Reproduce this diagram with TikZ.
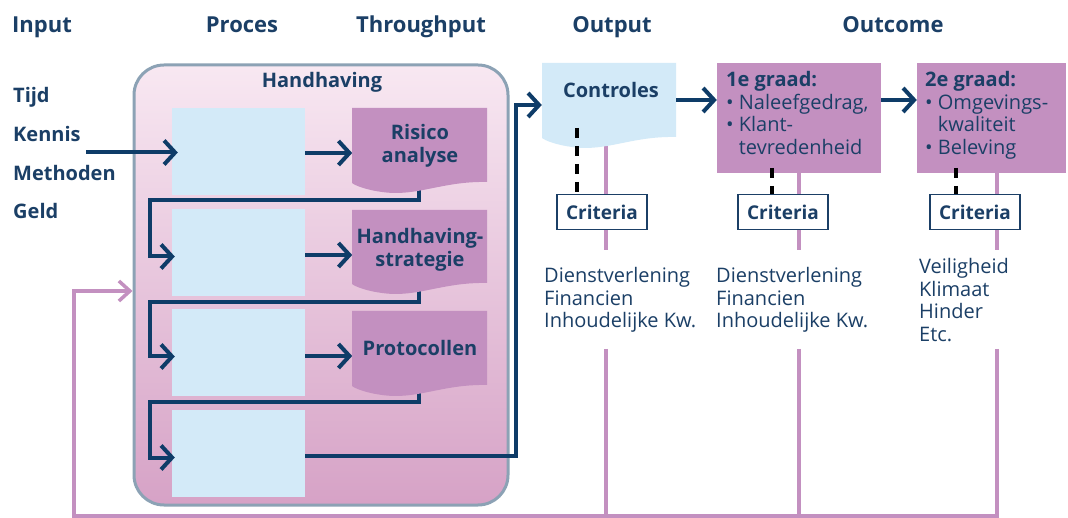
\documentclass[tikz,border=0pt]{standalone}
\usepackage{fontspec}
\setmainfont{Open Sans}
\usetikzlibrary{arrows.meta}
\definecolor{navy}{HTML}{1B3F66}
\definecolor{arr}{HTML}{0E3C68}
\definecolor{purp}{HTML}{C390C0}
\definecolor{lblue}{HTML}{D3EAF8}
\definecolor{pinktop}{HTML}{F8E8F2}
\definecolor{pinkbot}{HTML}{D6A2C6}
\definecolor{frame}{HTML}{8CA2B5}
\newcommand\docshape[5]{%
  \fill[#1] (#2,#3) -- (#4,#3) -- (#4,#5)
    .. controls ({#4-45},{#5-1}) and ({#4-70},{#5+15}) .. ({#2+30},{#5+10})
    .. controls ({#2+15},{#5+8}) and ({#2+4},{#5+4}) .. (#2,{#5+1}) -- cycle;}
\begin{document}
\begin{tikzpicture}[x=1pt,y=-1pt,
  every node/.style={text=navy, inner sep=0pt},
  head/.style={font=\fontsize{22}{26}\selectfont\bfseries, anchor=base},
  inlab/.style={font=\fontsize{20}{24}\selectfont\bfseries, anchor=base west},
  pbox/.style={fill=lblue, minimum width=133pt, minimum height=87pt},
  flow/.style={draw=arr, line width=4pt, -{Straight Barb[length=11pt,width=24pt]}},
  fback/.style={draw=purp, line width=3.5pt, -{Straight Barb[length=11pt,width=20pt]}},
  vline/.style={draw=purp, line width=3.5pt},
  dashl/.style={draw=black, line width=4pt, dash pattern=on 10pt off 8pt},
  crit/.style={draw=navy, line width=1.8pt, fill=white, minimum width=90pt, minimum height=35pt, font=\fontsize{19}{22}\selectfont\bfseries},
  gbox/.style={fill=purp, minimum height=110pt},
  doctext/.style={font=\fontsize{20}{22.5}\selectfont\bfseries, align=center},
  blocktext/.style={font=\fontsize{20}{22.7}\selectfont, align=left, anchor=west},
  gtext/.style={font=\fontsize{20}{22.7}\selectfont, align=left, anchor=north west},
]
\useasboundingbox (0,0) rectangle (1068,518);
\fill[white] (0,0) rectangle (1068,518);

% headings
\node[head, anchor=base west] (hin) at (12,33) {Input};
\node[head] (hpr) at (242,33) {Proces};
\node[head] (hth) at (421,33) {Throughput};
\node[head] (hou) at (612,33) {Output};
\node[head] (hoc) at (893,33) {Outcome};

% input labels
\node[inlab] (tijd) at (13,103) {Tijd};
\node[inlab] (kennis) at (13,142) {Kennis};
\node[inlab] (meth) at (13,181) {Methoden};
\node[inlab] (geld) at (13,219) {Geld};

% pink vertical lines and feedback
\draw[vline] (606,140) -- (606,250);
\draw[vline] (606,349) -- (606,517);
\draw[vline] (799,170) -- (799,250);
\draw[vline] (799,349) -- (799,517);
\draw[vline] (997,170) -- (997,250);
\draw[vline] (997,349) -- (997,517);

% big box
\node[draw=frame, line width=3pt, rounded corners=30pt, top color=pinktop, bottom color=pinkbot,
      minimum width=374pt, minimum height=440pt] (hh) at (321,285) {};
\node[font=\fontsize{20}{24}\selectfont\bfseries] (hhl) at (322,82) {Handhaving};

\draw[fback] (999,516) -- (74,516) -- (74,291) -- (hh.west |- 0,291);

% process boxes
\node[pbox] (b1) at (238.5,151.5) {};
\node[pbox] (b2) at (238.5,252.5) {};
\node[pbox] (b3) at (238.5,352.5) {};
\node[pbox] (b4) at (238.5,453.5) {};

% connectors
\coordinate (d1b) at (419,186);
\coordinate (d2b) at (419,287);
\coordinate (d3b) at (419,388);
\draw[flow] (86,152.5) -- ([xshift=6pt,yshift=-1pt]b1.west);
\draw[flow] ([yshift=-1.5pt]b1.east) -- ++(47,0);
\draw[flow] ([yshift=-2.5pt]b2.east) -- ++(47,0);
\draw[flow] ([yshift=-3.5pt]b3.east) -- ++(47,0);
\draw[flow] (d1b) |- (150,200) |- ([xshift=3pt,yshift=-4pt]b2.west);
\draw[flow] (d2b) |- (150,302) |- ([xshift=3pt,yshift=-4pt]b3.west);
\draw[flow] (d3b) |- (150,402) |- ([xshift=3pt,yshift=-4pt]b4.west);

% throughput documents
\docshape{purp}{352}{108}{487}{182}
\docshape{purp}{352}{210}{487}{283}
\docshape{purp}{352}{311}{487}{385}
\node[doctext] (d1) at (420,146) {Risico\\analyse};
\node[doctext] (d2) at (420,250) {Handhaving-\\strategie};
\node[doctext] (d3) at (420,348) {Protocollen};

% output
\docshape{lblue}{542}{63}{676}{137}
\node[minimum width=134pt, minimum height=74pt] (ctrl) at (609,100) {};
\node[font=\fontsize{20}{24}\selectfont\bfseries] (ctrlt) at (611,90) {Controles};
\draw[flow] ([yshift=-2pt]b4.east) -| ([xshift=-26pt,yshift=-5pt]ctrl.west) -- ([yshift=-5pt]ctrl.west);

% outcome boxes
\node[gbox, minimum width=164pt] (g1) at (799,118) {};
\node[gbox, minimum width=149pt] (g2) at (991.5,118) {};
\draw[flow] (ctrl.east) -- (g1.west |- ctrl.east);
\draw[flow] (g1.east |- ctrl.east) -- (g2.west |- ctrl.east);
\node[gtext] (g1t) at (726,71) {{\bfseries 1e graad:}\\\textbullet\ Naleefgedrag,\\\textbullet\ Klant-\\\hphantom{\textbullet\ }tevredenheid};
\node[gtext] (g2t) at (925,71) {{\bfseries 2e graad:}\\\textbullet\ Omgevings-\\\hphantom{\textbullet\ }kwaliteit\\\textbullet\ Beleving};

% criteria
\node[crit] (c1) at (602,212) {Criteria};
\node[crit] (c2) at (783,212) {Criteria};
\node[crit] (c3) at (975,212) {Criteria};
\draw[dashl] (577,128) -- ([xshift=-25pt]c1.north);
\draw[dashl] (772,168) -- ([xshift=-11pt]c2.north);
\draw[dashl] (955.5,168) -- ([xshift=-19.5pt]c3.north);

% text blocks
\node[blocktext] (t1) at (544,300) {Dienstverlening\\Financien\\Inhoudelijke Kw.};
\node[blocktext] (t2) at (716,300) {Dienstverlening\\Financien\\Inhoudelijke Kw.};
\node[blocktext] (t3) at (919,300) {Veiligheid\\Klimaat\\Hinder\\Etc.};
\end{tikzpicture}
\end{document}
